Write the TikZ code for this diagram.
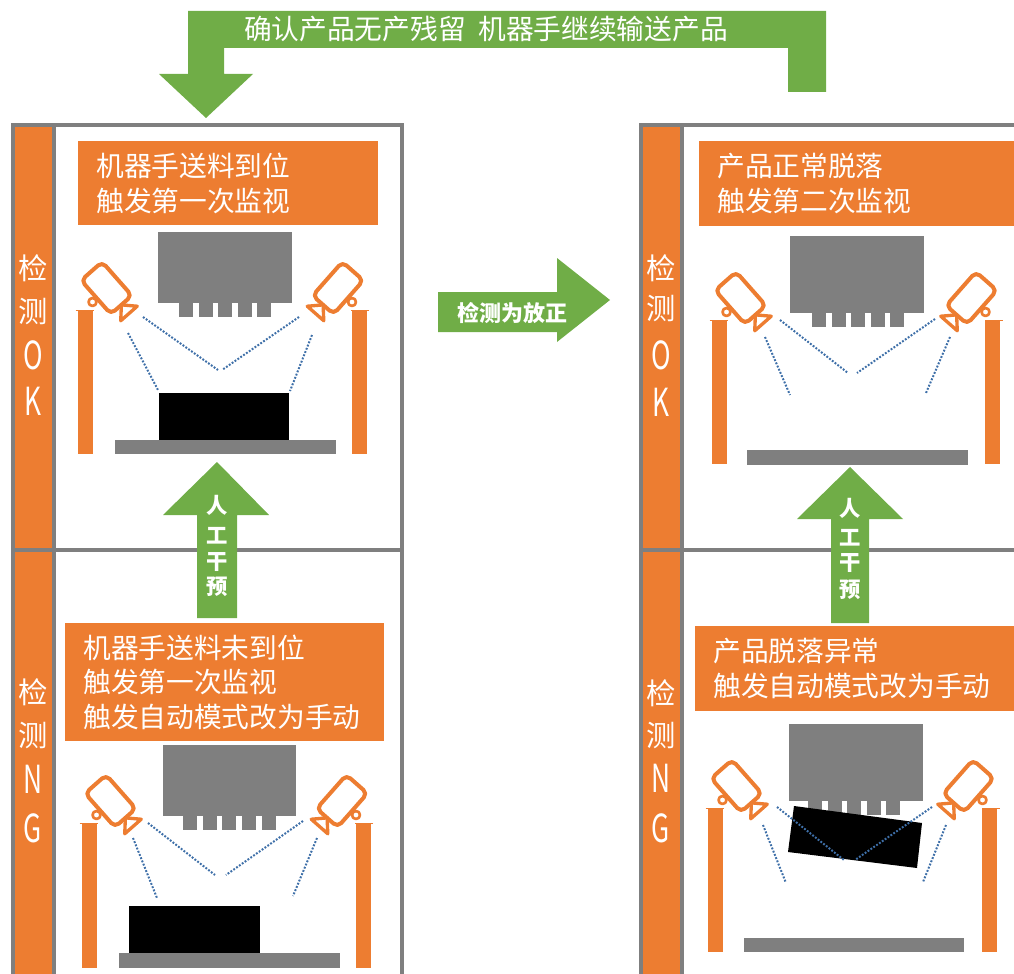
\documentclass[tikz,border=0pt]{standalone}
\usepackage{fontspec}
\newfontfamily\cjk{Noto Sans CJK SC}
\definecolor{org}{HTML}{ED7D31}
\definecolor{grn}{HTML}{70AD47}
\definecolor{gry}{HTML}{7F7F7F}
\definecolor{dotblue}{HTML}{3E6FA8}

\tikzset{
  frame/.style={draw=gry, line width=3pt},
  obox/.style={fill=org, text=white, inner xsep=13.5pt, inner ysep=0pt, align=left,
    anchor=north west, font=\cjk\fontsize{20.8}{26}\selectfont},
  stripcjk/.style={text=white, font=\cjk\fontsize{22}{22}\selectfont, inner sep=0pt},
  striplat/.style={text=white, font=\cjk\fontsize{29}{29}\selectfont, inner sep=0pt},
  gfill/.style={fill=grn, draw=none},
  gtxt/.style={text=white, font=\cjk\bfseries\fontsize{16}{16}\selectfont, inner sep=0pt},
  ttxt/.style={text=white, font=\cjk\fontsize{20.8}{20.8}\selectfont, inner sep=0pt},
  metal/.style={fill=gry, draw=none},
  prod/.style={fill=black, draw=none},
  sight/.style={draw=dotblue, line width=1.5pt, dash pattern=on 1.4pt off 1.2pt},
  camline/.style={draw=org, line width=3pt, fill=white, line join=round},
}

% camera on a pole: pole centre x, pole top y, pole length, facing (1 right, -1 left)
\newcommand{\camera}[4]{%
  \begin{scope}[shift={(#1,#2)}, xscale=#4]
    \fill[org] (-7.5,0) rectangle (7.5,#3);
    \draw[org, line width=1.2pt] (-10,0.5) -- (8,0.5);
    \draw[camline, line width=2pt] (7,-8) circle (4);
    \begin{scope}[shift={(21,-22)}, rotate=-48.6]
      \draw[camline, rounded corners=4pt] (-22.5,-14) rectangle (22.5,14);
      \draw[camline, line width=2.5pt] (22.5,0) -- (34,-11) -- (34,11) -- cycle;
    \end{scope}
  \end{scope}}

% gripper head with five fingers: left, right, top, bottom, first finger x, finger pitch
\newcommand{\gripper}[6]{%
  \fill[metal] (#1,#3) rectangle (#2,#4);
  \foreach \k in {0,...,4}
    \fill[metal] ({#5+\k*#6},#4) rectangle ({#5+\k*#6+14},{#4+14});}

\begin{document}
\begin{tikzpicture}[x=0.75pt, y=-0.75pt]
\useasboundingbox (0,0) rectangle (1014,974);

% ---------- column frames ----------
\fill[org] (13,125) rectangle (54,980);
\fill[org] (641,125) rectangle (682,980);
\draw[frame] (13,980) -- (13,125) -- (402,125) -- (402,980);
\draw[frame] (54,125) -- (54,980);
\draw[frame] (13,550) -- (402,550);
\draw[frame] (641,980) -- (641,125) -- (1020,125);
\draw[frame] (682,125) -- (682,980);
\draw[frame] (641,550) -- (1020,550);

% ---------- strip labels ----------
\node[stripcjk] (lok1) at (33,268) {检};
\node[stripcjk] (lok2) at (33,311) {测};
\node[striplat] (lok3) at (33,355) {\scalebox{0.68}[1]{O}};
\node[striplat] (lok4) at (33,401) {\scalebox{0.68}[1]{K}};
\node[stripcjk] (lng1) at (33,692) {检};
\node[stripcjk] (lng2) at (33,735) {测};
\node[striplat] (lng3) at (33,779) {\scalebox{0.68}[1]{N}};
\node[striplat] (lng4) at (33,828) {\scalebox{0.68}[1]{G}};
\node[stripcjk] (rok1) at (661,268) {检};
\node[stripcjk] (rok2) at (661,308) {测};
\node[striplat] (rok3) at (661,355) {\scalebox{0.68}[1]{O}};
\node[striplat] (rok4) at (661,402) {\scalebox{0.68}[1]{K}};
\node[stripcjk] (rng1) at (661,693) {检};
\node[stripcjk] (rng2) at (661,735) {测};
\node[striplat] (rng3) at (661,778) {\scalebox{0.68}[1]{N}};
\node[striplat] (rng4) at (661,828) {\scalebox{0.68}[1]{G}};

% ---------- state captions ----------
\node[obox, text width=198pt, minimum height=63pt] (capLT) at (78,141)
  {机器手送料到位\\触发第一次监视};
\node[obox, text width=212.25pt, minimum height=88.5pt] (capLB) at (65,623)
  {机器手送料未到位\\触发第一次监视\\触发自动模式改为手动};
\node[obox, text width=210.75pt, minimum height=63.75pt] (capRT) at (699,141)
  {产品正常脱落\\触发第二次监视};
\node[obox, text width=213.75pt, minimum height=63.75pt] (capRB) at (695,626)
  {产品脱落异常\\触发自动模式改为手动};

% ---------- scene: left, OK ----------
\gripper{158}{292}{232}{303}{179}{19.5}
\fill[prod] (159,393) rectangle (289,440);
\fill[metal] (115,440) rectangle (336,454);
\camera{85.5}{310}{144}{1}
\camera{359}{310}{144}{-1}
\draw[sight] (143,317) -- (218,370);
\draw[sight] (128,333) -- (158,390);
\draw[sight] (299,317) -- (222,370);
\draw[sight] (312,335) -- (290,391);

% ---------- scene: left, NG ----------
\gripper{163}{296}{745}{816}{183}{19.7}
\fill[prod] (129,906) rectangle (260,953);
\fill[metal] (119,953) rectangle (340,968);
\camera{89.5}{823}{145}{1}
\camera{363}{823}{145}{-1}
\draw[sight] (148,823) -- (215,875);
\draw[sight] (133,838) -- (157,898);
\draw[sight] (303,821) -- (226,875);
\draw[sight] (317,838) -- (293,896);

% ---------- scene: right, OK ----------
\gripper{790}{924}{236}{313}{812}{19.5}
\fill[metal] (747,450) rectangle (968,465);
\camera{719.5}{320}{144}{1}
\camera{992.5}{320}{144}{-1}
\draw[sight] (780,320) -- (848,373);
\draw[sight] (765,337) -- (790,395);
\draw[sight] (935,319) -- (857,373);
\draw[sight] (950,337) -- (926,393);

% ---------- scene: right, NG ----------
\gripper{789}{923}{724}{801}{808}{19.6}
\fill[prod] (794,806) -- (922,823) -- (917,868) -- (788,852) -- cycle;
\fill[metal] (744,938) rectangle (964,952);
\camera{715.5}{808}{144}{1}
\camera{989.5}{808}{144}{-1}
\draw[sight] (777,807) -- (844,860);
\draw[sight] (763,825) -- (786,883);
\draw[sight] (932,807) -- (855,860);
\draw[sight] (946,825) -- (923,882);

% ---------- green arrows ----------
\fill[gfill] (188,11) -- (826,11) -- (826,92) -- (788,92) -- (788,48) -- (224,48)
  -- (224,74) -- (253,74) -- (206,118) -- (159,74) -- (188,74) -- cycle;
\node[ttxt] (loop) at (486,29) {确认产品无产残留\ \ 机器手继续输送产品};

\fill[gfill] (438,292) -- (557,292) -- (557,258) -- (610,300) -- (557,342)
  -- (557,332) -- (438,332) -- cycle;
\node[gtxt, font=\cjk\bfseries\fontsize{16.5}{16.5}\selectfont] (turn) at (512,313) {检测为放正};

\fill[gfill] (197,618) -- (197,515) -- (163,515) -- (217,462) -- (269,515)
  -- (237,515) -- (237,618) -- cycle;
\node[gtxt] (lm1) at (217,505) {人};
\node[gtxt] (lm2) at (217,536) {工};
\node[gtxt] (lm3) at (217,562) {干};
\node[gtxt] (lm4) at (217,587) {预};

\fill[gfill] (831,623) -- (831,519) -- (797,519) -- (850,467) -- (903,519)
  -- (869,519) -- (869,623) -- cycle;
\node[gtxt] (rm1) at (850,508) {人};
\node[gtxt] (rm2) at (850,538) {工};
\node[gtxt] (rm3) at (850,563) {干};
\node[gtxt] (rm4) at (850,590) {预};
\end{tikzpicture}
\end{document}
